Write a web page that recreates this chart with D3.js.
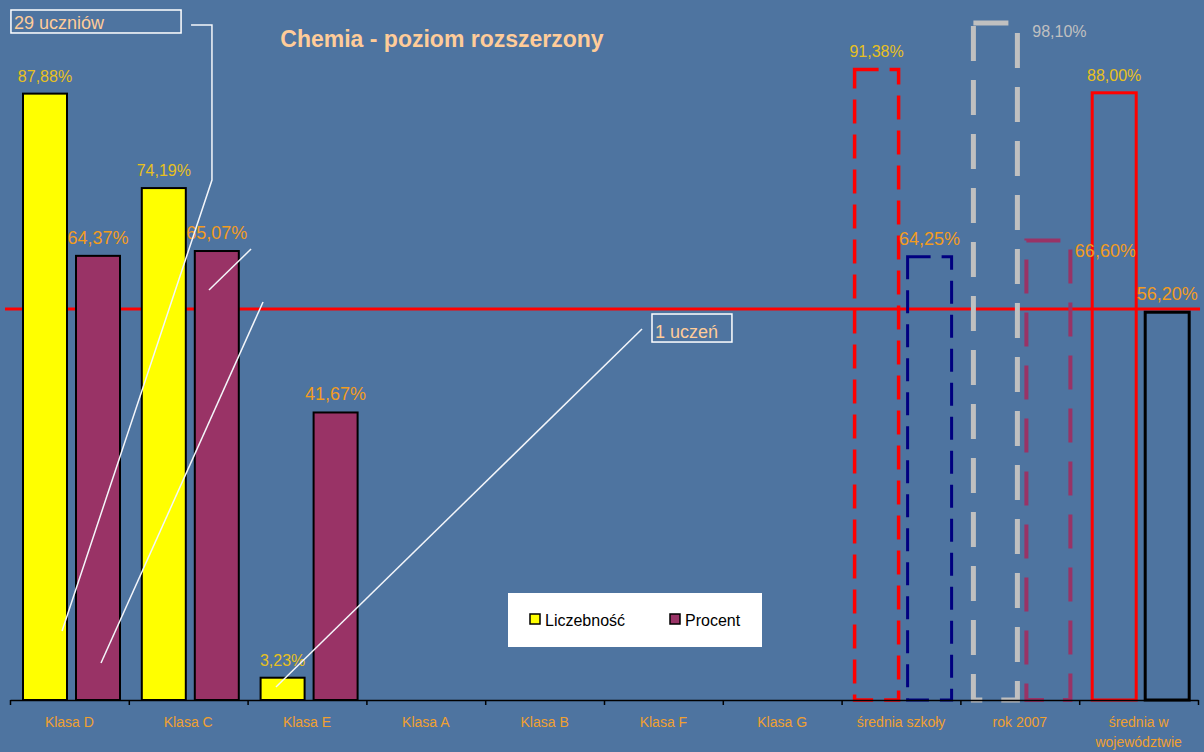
<!DOCTYPE html>
<html>
<head>
<meta charset="utf-8">
<script src="https://cdn.jsdelivr.net/npm/d3@7"></script>
<style>
  body { margin: 0; background: #4e74a0; }
  svg { display: block; font-family: "Liberation Sans", Arial, sans-serif; }
</style>
</head>
<body>
<div id="chart"></div>
<script>
// data
const categories = ["Klasa D", "Klasa C", "Klasa E", "Klasa A", "Klasa B", "Klasa F", "Klasa G",
                    "średnia szkoły", "rok 2007", "średnia w województwie"];
const liczebnosc = [87.88, 74.19, 3.23, null, null, null, null, 91.38, 98.10, 88.00];
const procent    = [64.37, 65.07, 41.67, null, null, null, null, 64.25, 66.60, 56.20];
const seriesNames = ["Liczebność", "Procent"];
const refLineValue = 56.67;
const yTicks = [0, 100];

const width = 1204, height = 752;
const margin = { top: 10, right: 6, bottom: 52, left: 10 };

const svg = d3.select("#chart")
    .append("svg")
    .attr("width", width)
    .attr("height", height);

svg.append("rect")
    .attr("width", width)
    .attr("height", height)
    .attr("fill", "#4e74a0");

// scales
const x = d3.scaleBand()
    .domain(categories)
    .range([margin.left, width - margin.right]);

const xSub = d3.scaleBand()
    .domain([0, 1])
    .range([13, 110])
    .paddingInner(9 / 53);

// continuous x in "category units", used for the callouts
const xu = d3.scaleLinear()
    .domain([0, categories.length])
    .range([margin.left, width - margin.right]);

const y = d3.scaleLinear()
    .domain(yTicks)
    .range([height - margin.bottom, margin.top]);

// default and special bar styles
const defaultStyle = [
    { fill: "#ffff00", stroke: "#000", width: 2, dash: null },
    { fill: "#993366", stroke: "#000", width: 2, dash: null }
];
const specialStyles = {
    "średnia szkoły": [
        { fill: "none", stroke: "#ff0000", width: 3.5, dash: "24 11" },
        { fill: "none", stroke: "#000080", width: 3, dash: "23 11" }
    ],
    "rok 2007": [
        { fill: "none", stroke: "#c0c0c0", width: 5, dash: "35 19" },
        { fill: "none", stroke: "#993366", width: 4, dash: "34 19" }
    ],
    "średnia w województwie": [
        { fill: "none", stroke: "#ff0000", width: 3, dash: null },
        { fill: "none", stroke: "#000", width: 3, dash: null }
    ]
};

const labelColor = ["#e8c020", "#f39c1e"];
const labelSize = [16, 18];
const labelOverrides = {
    "rok 2007|0": { dx: 64, dy: 14, color: "#c0c0c0" },
    "rok 2007|1": { dx: 57, dy: 17 }
};

const fmt = v => d3.format(".2f")(v).replace(".", ",") + "%";

const bars = [];
categories.forEach((c, i) => {
    [liczebnosc[i], procent[i]].forEach((v, s) => {
        if (v == null) return;
        const st = (specialStyles[c] || defaultStyle)[s];
        bars.push({ cat: c, s: s, v: v, st: st });
    });
});

// reference line
svg.append("line")
    .attr("x1", xu(-0.042))
    .attr("x2", xu(10.017))
    .attr("y1", y(refLineValue))
    .attr("y2", y(refLineValue))
    .attr("stroke", "#ff0000")
    .attr("stroke-width", 3);

// bars
svg.selectAll(".bar")
    .data(bars)
    .enter()
    .append("rect")
    .attr("class", "bar")
    .attr("x", d => x(d.cat) + xSub(d.s))
    .attr("y", d => y(d.v))
    .attr("width", xSub.bandwidth())
    .attr("height", d => y(0) - y(d.v))
    .attr("fill", d => d.st.fill)
    .attr("stroke", d => d.st.stroke)
    .attr("stroke-width", d => d.st.width)
    .attr("stroke-dasharray", d => d.st.dash);

// value labels
svg.selectAll(".vlabel")
    .data(bars)
    .enter()
    .append("text")
    .attr("class", "vlabel")
    .attr("text-anchor", "middle")
    .attr("x", d => {
        const o = labelOverrides[d.cat + "|" + d.s];
        return x(d.cat) + xSub(d.s) + xSub.bandwidth() / 2 + (o ? o.dx : 0);
    })
    .attr("y", d => {
        const o = labelOverrides[d.cat + "|" + d.s];
        return y(d.v) + (o ? o.dy : -12);
    })
    .attr("fill", d => {
        const o = labelOverrides[d.cat + "|" + d.s];
        return o && o.color ? o.color : labelColor[d.s];
    })
    .style("font-size", d => labelSize[d.s] + "px")
    .text(d => fmt(d.v));

// x axis: boundary ticks
svg.append("g")
    .attr("transform", `translate(0,${y(0)})`)
    .call(d3.axisBottom(xu).ticks(categories.length).tickSize(5).tickSizeOuter(0).tickFormat(""))
    .call(g => g.selectAll("path, line").attr("stroke", "#000").attr("stroke-width", 1.5));

// category labels, wrapped
const catText = svg.selectAll(".cat")
    .data(categories)
    .enter()
    .append("text")
    .attr("class", "cat")
    .attr("text-anchor", "middle")
    .attr("fill", "#f0a030")
    .style("font-size", "14px")
    .attr("x", d => x(d) + x.bandwidth() / 2)
    .attr("y", y(0) + 27);

catText.each(function (d) {
    const t = d3.select(this);
    const words = d.split(" ");
    let line = [];
    let tspan = t.append("tspan").attr("x", x(d) + x.bandwidth() / 2).attr("dy", 0);
    words.forEach(w => {
        line.push(w);
        tspan.text(line.join(" "));
        if (tspan.node().getComputedTextLength() > 105 && line.length > 1) {
            line.pop();
            tspan.text(line.join(" "));
            line = [w];
            tspan = t.append("tspan").attr("x", x(d) + x.bandwidth() / 2).attr("dy", 20).text(w);
        }
    });
});

// title
svg.append("text")
    .attr("x", 442)
    .attr("y", 47)
    .attr("text-anchor", "middle")
    .attr("fill", "#ffcc99")
    .style("font-size", "23px")
    .style("font-weight", "bold")
    .text("Chemia - poziom rozszerzony");

// callouts (in category units / value units)
const callouts = [
    { text: "29 uczniów", box: [0.008, 1.44, 100, 96.67] },
    { text: "1 uczeń", box: [5.404, 6.077, 55.94, 51.88] }
];
const leaders = [
    [[1.524, 97.83], [1.70, 97.83], [1.70, 75.36], [0.438, 10.0]],
    [[2.029, 65.36], [1.675, 59.42]],
    [[2.130, 57.68], [0.766, 5.36]],
    [[5.320, 53.77], [2.239, 1.88]]
];

const line = d3.line().x(d => xu(d[0])).y(d => y(d[1]));
svg.selectAll(".leader")
    .data(leaders)
    .enter()
    .append("path")
    .attr("class", "leader")
    .attr("d", line)
    .attr("fill", "none")
    .attr("stroke", "#f4f6fa")
    .attr("stroke-width", 1.5);

callouts.forEach(c => {
    svg.append("rect")
        .attr("x", xu(c.box[0]))
        .attr("y", y(c.box[2]))
        .attr("width", xu(c.box[1]) - xu(c.box[0]))
        .attr("height", y(c.box[3]) - y(c.box[2]))
        .attr("fill", "none")
        .attr("stroke", "#fff")
        .attr("stroke-width", 1.5);
    svg.append("text")
        .attr("x", xu(c.box[0]) + 3)
        .attr("y", y(c.box[3]) - 4)
        .attr("fill", "#ffcc99")
        .style("font-size", "18px")
        .text(c.text);
});

// legend
const legend = svg.append("g").attr("transform", "translate(508,593)");
legend.append("rect")
    .attr("width", 254)
    .attr("height", 54)
    .attr("fill", "#fff");
seriesNames.forEach((name, i) => {
    const g = legend.append("g").attr("transform", `translate(${22 + i * 140},21)`);
    g.append("rect")
        .attr("width", 10)
        .attr("height", 10)
        .attr("fill", defaultStyle[i].fill)
        .attr("stroke", "#000")
        .attr("stroke-width", 1.5);
    g.append("text")
        .attr("x", 15)
        .attr("y", 12)
        .attr("fill", "#000")
        .style("font-size", "16px")
        .text(name);
});
</script>
</body>
</html>
